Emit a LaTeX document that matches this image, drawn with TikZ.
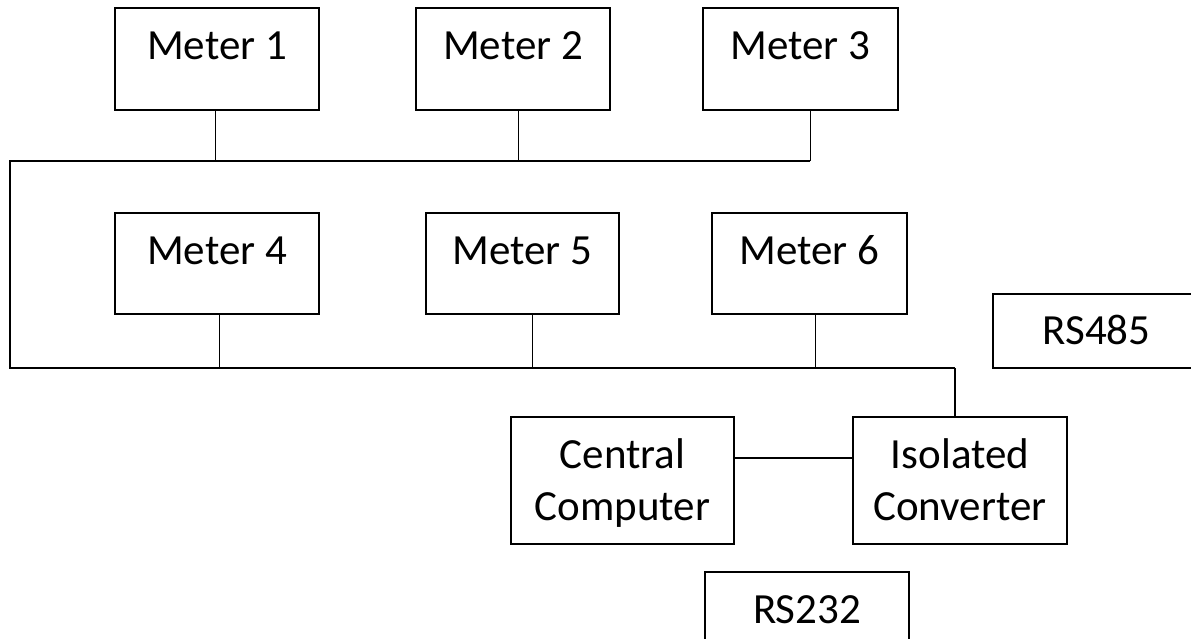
\documentclass[tikz,border=0pt]{standalone}
\usepackage{fontspec}
\setmainfont{Carlito}
\begin{document}
\begin{tikzpicture}[x=1pt,y=-1pt,
  box/.style={draw, line width=1.3pt, rectangle, inner sep=0pt, align=center,
    font=\fontsize{43}{52}\selectfont},
  bus/.style={draw, line width=2pt},
  stub/.style={draw, line width=1pt}]
\useasboundingbox (0,0) rectangle (1191,639);
% meters, top row
\node[box, minimum width=204pt, minimum height=102pt, text height=16pt, text depth=14pt] (m1) at (217,59) {Meter 1};
\node[box, minimum width=194pt, minimum height=102pt, text height=16pt, text depth=14pt] (m2) at (513,59) {Meter 2};
\node[box, minimum width=195pt, minimum height=102pt, text height=16pt, text depth=14pt] (m3) at (800.5,59) {Meter 3};
% meters, second row
\node[box, minimum width=204pt, minimum height=101pt, text height=15pt, text depth=14pt] (m4) at (217,263.5) {Meter 4};
\node[box, minimum width=193pt, minimum height=101pt, text height=15pt, text depth=14pt] (m5) at (522.5,263.5) {Meter 5};
\node[box, minimum width=195pt, minimum height=101pt, text height=15pt, text depth=14pt] (m6) at (809.5,263.5) {Meter 6};
% other boxes
\node[box, minimum width=207pt, minimum height=74pt, text height=30pt, text depth=4pt] (rs485) at (1096.5,331) {RS485};
\node[box, minimum width=223pt, minimum height=127pt, text height=85pt, text depth=6pt] (cc) at (622.5,480.5) {Central\\Computer};
\node[box, minimum width=214pt, minimum height=127pt, text height=85pt, text depth=6pt] (ic) at (960,480.5) {Isolated\\Converter};
\node[box, minimum width=204pt, minimum height=78pt, text height=30pt, text depth=6pt] (rs232) at (807,611) {RS232};
% bus coordinates
\coordinate (b1L) at (10,161);
\coordinate (b1R) at (810,161);
\coordinate (b2L) at (10,368);
\coordinate (b2R) at (955,368);
% bus lines
\draw[bus] (b1R) -- (b1L) -- (b2L) -- (b2R);
\draw[stub, line width=1.3pt] (b2R) -- (b2R |- ic.north);
% stubs
\draw[stub] ([xshift=-2pt]m1.south) -- ([xshift=-2pt]m1.south |- b1L);
\draw[stub] ([xshift=5pt]m2.south) -- ([xshift=5pt]m2.south |- b1L);
\draw[stub] ([xshift=9.5pt]m3.south) -- ([xshift=9.5pt]m3.south |- b1L);
\draw[stub] ([xshift=2pt]m4.south) -- ([xshift=2pt]m4.south |- b2L);
\draw[stub] ([xshift=9.5pt]m5.south) -- ([xshift=9.5pt]m5.south |- b2L);
\draw[stub] ([xshift=5.5pt]m6.south) -- ([xshift=5.5pt]m6.south |- b2L);
% computer to converter
\draw[stub, line width=1.5pt] ([yshift=22.5pt]cc.east) -- ([yshift=22.5pt]cc.east -| ic.west);
\end{tikzpicture}
\end{document}
